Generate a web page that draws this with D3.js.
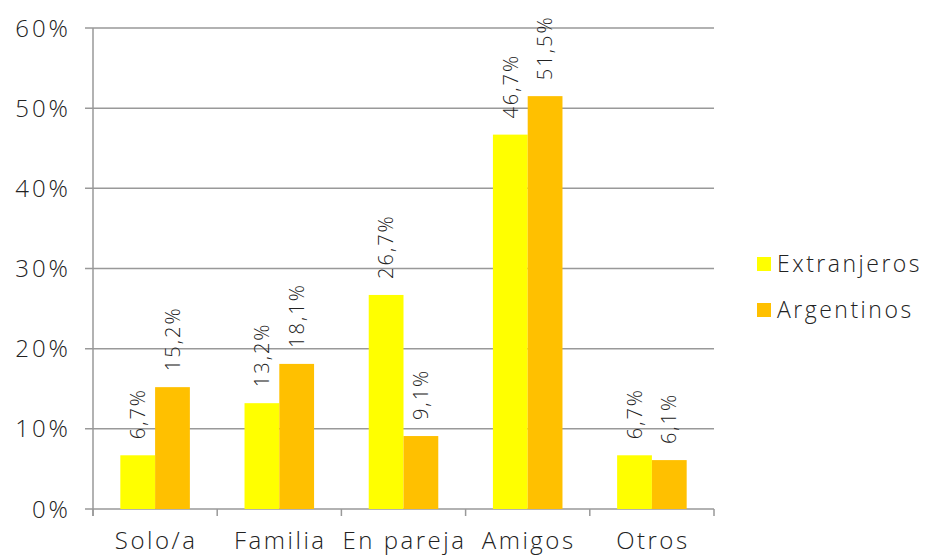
<html>
<head>
    <style>
        body { margin: 0; background: #fff; font-family: "Open Sans", Lato, sans-serif; font-weight: 300; }
        text { fill: #222; letter-spacing: 2.5px; }
    </style>
</head>
<body>
<div id="chart-holder"></div>
<script src="https://d3js.org/d3.v7.min.js"></script>
<script>
// data
var categories = ['Solo/a', 'Familia', 'En pareja', 'Amigos', 'Otros'];
var seriesNames = ['Extranjeros', 'Argentinos'];
var extranjeros = [6.7, 13.2, 26.7, 46.7, 6.7];
var argentinos = [15.2, 18.1, 9.1, 51.5, 6.1];
var yTicks = [0, 10, 20, 30, 40, 50, 60];
var colors = ['#FFFF00', '#FFC000'];

var width = 929;
var height = 556;
var margin = {top: 28, right: 215, bottom: 47, left: 93};
var innerWidth = width - margin.left - margin.right;
var innerHeight = height - margin.top - margin.bottom;

var svg = d3.select('#chart-holder')
    .append('svg')
    .attr('width', width)
    .attr('height', height);

var g = svg.append('g')
    .attr('transform', 'translate(' + margin.left + ',' + margin.top + ')');

var rows = categories.map(function(c, i) {
    return {cat: c, values: [extranjeros[i], argentinos[i]]};
});

// scales
var x0 = d3.scaleBand()
    .domain(categories)
    .range([0, innerWidth])
    .paddingInner(0.44)
    .paddingOuter(0.22);

var x1 = d3.scaleBand()
    .domain([0, 1])
    .range([0, x0.bandwidth()]);

var y = d3.scaleLinear()
    .domain([0, 60])
    .range([innerHeight, 0]);

var step = innerWidth / categories.length;

// gridlines
g.selectAll('.grid')
    .data(yTicks)
    .enter()
    .append('line')
    .attr('x1', -8)
    .attr('x2', innerWidth)
    .attr('y1', function(d) { return y(d); })
    .attr('y2', function(d) { return y(d); })
    .attr('stroke', '#999')
    .attr('stroke-width', 1.5);

// y axis line
g.append('line')
    .attr('x1', 0).attr('x2', 0)
    .attr('y1', 0).attr('y2', innerHeight + 7)
    .attr('stroke', '#999')
    .attr('stroke-width', 1.5);

// y tick labels
g.selectAll('.ylab')
    .data(yTicks)
    .enter()
    .append('text')
    .attr('x', -22)
    .attr('y', function(d) { return y(d); })
    .attr('dy', '0.36em')
    .attr('text-anchor', 'end')
    .style('font-size', '24px')
    .style('letter-spacing', '3px')
    .text(function(d) { return d + '%'; });

// category ticks
g.selectAll('.xtick')
    .data(d3.range(categories.length + 1))
    .enter()
    .append('line')
    .attr('x1', function(d) { return d * step; })
    .attr('x2', function(d) { return d * step; })
    .attr('y1', innerHeight)
    .attr('y2', innerHeight + 7)
    .attr('stroke', '#999')
    .attr('stroke-width', 1.5);

// category labels
g.selectAll('.xlab')
    .data(categories)
    .enter()
    .append('text')
    .attr('x', function(d) { return x0(d) + x0.bandwidth() / 2 + 1; })
    .attr('y', innerHeight + 40)
    .attr('text-anchor', 'middle')
    .style('font-size', '24px')
    .text(function(d) { return d; });

// bars
var groups = g.selectAll('.group')
    .data(rows)
    .enter()
    .append('g')
    .attr('transform', function(d) { return 'translate(' + x0(d.cat) + ',0)'; });

groups.selectAll('rect')
    .data(function(d) { return d.values; })
    .enter()
    .append('rect')
    .attr('x', function(d, i) { return x1(i); })
    .attr('y', function(d) { return y(d); })
    .attr('width', x1.bandwidth())
    .attr('height', function(d) { return innerHeight - y(d); })
    .attr('fill', function(d, i) { return colors[i]; });

// value labels
groups.selectAll('.vlab')
    .data(function(d) { return d.values; })
    .enter()
    .append('text')
    .attr('transform', function(d, i) {
        var cx = x1(i) + x1.bandwidth() / 2;
        var cy = y(d) - 16;
        return 'translate(' + cx + ',' + cy + ') rotate(-90)';
    })
    .attr('dy', '0.36em')
    .attr('text-anchor', 'start')
    .style('font-size', '20px')
    .style('letter-spacing', '2px')
    .text(function(d) { return String(d).replace('.', ',') + '%'; });

// legend
var legend = svg.selectAll('.legend')
    .data(seriesNames)
    .enter()
    .append('g')
    .attr('transform', function(d, i) { return 'translate(757,' + (257 + i * 46) + ')'; });

legend.append('rect')
    .attr('width', 14)
    .attr('height', 14)
    .attr('fill', function(d, i) { return colors[i]; });

legend.append('text')
    .attr('x', 20)
    .attr('y', 7)
    .attr('dy', '0.36em')
    .style('font-size', '23px')
    .text(function(d) { return d; });
</script>
</body>
</html>
